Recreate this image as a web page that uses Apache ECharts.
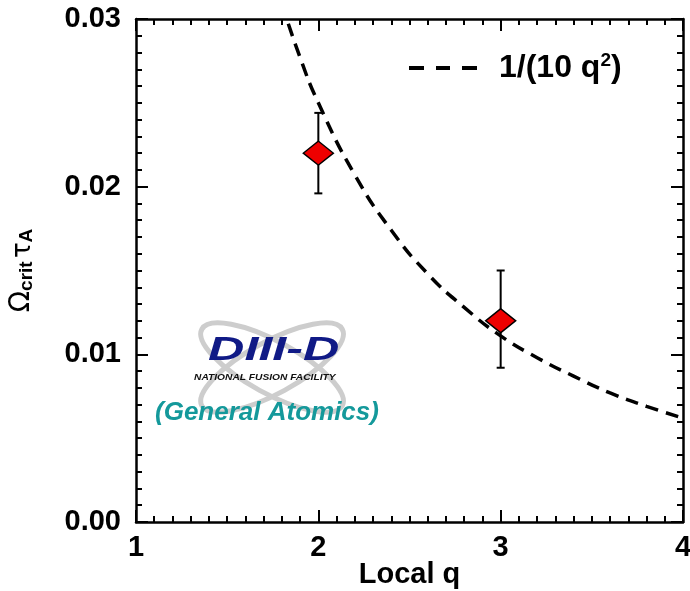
<!DOCTYPE html>
<html>
<head>
<meta charset="utf-8">
<script src="https://cdn.jsdelivr.net/npm/echarts@6/dist/echarts.min.js"></script>
<style>
  html, body { margin: 0; padding: 0; background: #fff; }
  #chart { width: 690px; height: 591px; }
</style>
</head>
<body>
<div id="chart"></div>
<script>
// measured points (local q, Omega_crit*tau_A) and error bar ends
var qValues = [2, 3];
var omegaValues = [0.022, 0.012];
var errLow = [0.0196, 0.0092];
var errHigh = [0.0244, 0.015];

// dashed reference curve 1/(10 q^2)
var curveQ = [1.8, 1.9, 2.0, 2.2, 2.4, 2.6, 2.8, 3.0, 3.2, 3.4, 3.6, 3.8, 4.0];
var curveY = [0.0309, 0.0277, 0.025, 0.0207, 0.0174, 0.0148, 0.0128, 0.0111, 0.0098, 0.0087, 0.0077, 0.0069, 0.0062];

var xTicks = [1, 2, 3, 4];
var yTicks = [0, 0.01, 0.02, 0.03];

var FONT = "Liberation Sans";

var myChart = echarts.init(document.getElementById("chart"));

function axisCommon(showLabel) {
  return {
    axisLine: { show: true, onZero: false, lineStyle: { color: "#000", width: 2.5 } },
    axisTick: { show: true, inside: true, length: 12, lineStyle: { color: "#000", width: 2 } },
    minorTick: { show: true, splitNumber: 10, length: 6, lineStyle: { color: "#000", width: 2 } },
    splitLine: { show: false },
    axisLabel: { show: showLabel }
  };
}

var option = {
  animation: false,
  backgroundColor: "#fff",
  // fixed plot box, don't let v6 shrink it to fit the labels
  grid: { left: 136, right: 7, top: 19, bottom: 69, containLabel: false, outerBoundsMode: "none" },
  legend: {
    left: 404,
    top: 46,
    itemWidth: 68,
    itemHeight: 4,
    data: [{
      name: "curve",
      // three short dashes, like the plotted line
      icon: "path://M0,0h15v4h-15z M27,0h14v4h-14z M53,0h15v4h-15z"
    }],
    itemStyle: { color: "#000" },
    formatter: function () { return "1/(10 q{sup|2})"; },
    textStyle: {
      fontFamily: FONT, fontSize: 32, fontWeight: "bold", color: "#000",
      padding: [0, 0, 0, 17],
      rich: {
        sup: { fontFamily: FONT, fontSize: 19, fontWeight: "bold", color: "#000", verticalAlign: "top", padding: [0, 0, 15, 0] }
      }
    }
  },
  xAxis: [
    Object.assign(axisCommon(true), {
      type: "value", min: 1, max: 4, interval: 1, position: "bottom",
      name: "Local q", nameLocation: "middle", nameGap: 38, nameMoveOverlap: false,
      nameTextStyle: { fontFamily: FONT, fontSize: 29, fontWeight: "bold", color: "#000" },
      axisLabel: {
        show: true, margin: 11, color: "#000",
        fontFamily: FONT, fontSize: 29, fontWeight: "bold",
        formatter: function (v) { return xTicks.indexOf(v) >= 0 ? String(v) : ""; }
      }
    }),
    Object.assign(axisCommon(false), {
      type: "value", min: 1, max: 4, interval: 1, position: "top"
    })
  ],
  yAxis: [
    Object.assign(axisCommon(true), {
      type: "value", min: 0, max: 0.03, interval: 0.01, position: "left",
      name: "{o|Ω}{s|crit} {t|τ}{s|A}", nameLocation: "middle", nameGap: 100, nameRotate: 90,
      nameMoveOverlap: false,
      nameTextStyle: {
        color: "#000",
        rich: {
          o: { fontFamily: "DejaVu Sans", fontSize: 28, color: "#000", lineHeight: 34, verticalAlign: "bottom" },
          t: { fontFamily: "DejaVu Sans", fontSize: 26, color: "#000", lineHeight: 34, verticalAlign: "bottom" },
          s: { fontFamily: FONT, fontSize: 19, fontWeight: "bold", color: "#000", lineHeight: 30, verticalAlign: "bottom" }
        }
      },
      axisLabel: {
        show: true, margin: 15, color: "#000",
        fontFamily: FONT, fontSize: 29, fontWeight: "bold",
        formatter: function (v) { return v.toFixed(2); }
      }
    }),
    Object.assign(axisCommon(false), {
      type: "value", min: 0, max: 0.03, interval: 0.01, position: "right"
    })
  ],
  graphic: [
    {
      type: "group",
      left: 186,
      top: 303,
      z: 1,
      children: [
        { type: "ellipse", shape: { cx: 82, cy: 49, rx: 80, ry: 26 }, rotation: 0.5, originX: 82, originY: 49,
          style: { fill: "none", stroke: "#cdcdcd", lineWidth: 5 } },
        { type: "ellipse", shape: { cx: 82, cy: 49, rx: 80, ry: 26 }, rotation: -0.5, originX: 82, originY: 49,
          style: { fill: "none", stroke: "#cdcdcd", lineWidth: 5 } },
        { type: "text", x: 18, y: 15, scaleX: 1.48, scaleY: 1,
          style: { text: "DIII-D", fontFamily: FONT, fontSize: 34, fontWeight: "bold", fontStyle: "italic", fill: "#101a86" } },
        { type: "text", x: 4, y: 55, scaleX: 1.2, scaleY: 1,
          style: { text: "NATIONAL FUSION FACILITY", fontFamily: FONT, fontSize: 8.5, fontWeight: "bold", fontStyle: "italic", fill: "#111" } }
      ]
    },
    {
      type: "text", left: 155, top: 400, z: 2,
      style: { text: "(General Atomics)", fontFamily: FONT, fontSize: 26, fontWeight: "bold", fontStyle: "italic", fill: "#14999b" }
    }
  ],
  series: [
    {
      name: "errors",
      type: "custom",
      z: 3,
      data: qValues.map(function (q, i) { return [q, errLow[i], errHigh[i]]; }),
      renderItem: function (params, api) {
        var lo = api.coord([api.value(0), api.value(1)]);
        var hi = api.coord([api.value(0), api.value(2)]);
        var cap = 4;
        var st = { stroke: "#000", lineWidth: 2 };
        return {
          type: "group",
          children: [
            { type: "line", shape: { x1: lo[0], y1: lo[1], x2: hi[0], y2: hi[1] }, style: st },
            { type: "line", shape: { x1: lo[0] - cap, y1: lo[1], x2: lo[0] + cap, y2: lo[1] }, style: st },
            { type: "line", shape: { x1: hi[0] - cap, y1: hi[1], x2: hi[0] + cap, y2: hi[1] }, style: st }
          ]
        };
      }
    },
    {
      name: "points",
      type: "scatter",
      z: 4,
      symbol: "diamond",
      symbolSize: [30, 24],
      itemStyle: { color: "#ee0000", borderColor: "#000", borderWidth: 1.5, opacity: 1 },
      data: qValues.map(function (q, i) { return [q, omegaValues[i]]; })
    },
    {
      name: "curve",
      type: "line",
      z: 5,
      smooth: true,
      symbol: "none",
      clip: true,
      lineStyle: { color: "#000", width: 3.5, type: [13, 8] },
      itemStyle: { color: "#000" },
      data: curveQ.map(function (q, i) { return [q, curveY[i]]; })
    }
  ]
};

myChart.setOption(option);
</script>
</body>
</html>
